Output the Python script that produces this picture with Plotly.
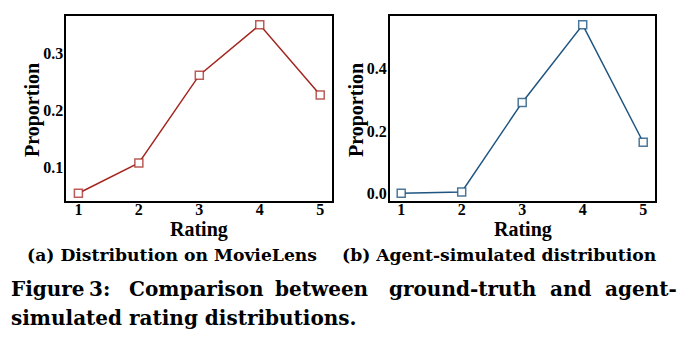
import plotly.graph_objects as go

ratings = [1, 2, 3, 4, 5]
movielens = [0.055, 0.108, 0.2615, 0.3495, 0.227]
agent_sim = [0.0, 0.004, 0.292, 0.5415, 0.164]
left_yticks = [0.1, 0.2, 0.3]
right_yticks = [0.0, 0.2, 0.4]
sub_a = "(a) Distribution on MovieLens"
sub_b = "(b) Agent-simulated distribution"
cap_line1 = ["Figure", "3:", "Comparison", "between", "ground-truth", "and", "agent-"]
cap_line2 = "simulated rating distributions."

W, H = 683, 345
def px_x(p): return p / W
def px_y(p): return 1 - p / H

SERIF = "Liberation Serif"
CAPF = "DejaVu Serif"
red = "#A3261F"
blue = "#1F5580"

fig = go.Figure()
fig.add_trace(go.Scatter(x=ratings, y=movielens, mode="lines+markers",
                         line=dict(color=red, width=1.5),
                         marker=dict(symbol="square", size=8, color="white",
                                     line=dict(color="rgba(163,38,31,0.75)", width=1.5)),
                         xaxis="x", yaxis="y", showlegend=False))
fig.add_trace(go.Scatter(x=ratings, y=agent_sim, mode="lines+markers",
                         line=dict(color=blue, width=1.5),
                         marker=dict(symbol="square", size=8, color="white",
                                     line=dict(color="rgba(31,85,128,0.8)", width=1.5)),
                         xaxis="x2", yaxis="y2", showlegend=False))

tickfont = dict(family=SERIF, size=16, color="#000000", weight="bold")
common = dict(showline=True, linecolor="black", linewidth=1.5, mirror=True,
              showgrid=False, zeroline=False, ticks="", tickfont=tickfont)
xcommon = dict(common, ticklabelstandoff=-7)
ycommon = dict(common, ticklabelstandoff=-2)
ydom = [px_y(201.3), px_y(16)]
fig.update_layout(
    width=W, height=H, margin=dict(l=0, r=0, t=0, b=0),
    paper_bgcolor="white", plot_bgcolor="white",
    xaxis=dict(domain=[px_x(66.3), px_x(332.3)], range=[0.8, 5.2],
               tickvals=ratings, anchor="y", **xcommon),
    yaxis=dict(domain=ydom, range=[0.041, 0.365], tickvals=left_yticks,
               tickformat=".1f", anchor="x", **ycommon),
    xaxis2=dict(domain=[px_x(389.7), px_x(655.3)], range=[0.81, 5.2],
                tickvals=ratings, anchor="y2", **xcommon),
    yaxis2=dict(domain=ydom, range=[-0.026, 0.570], tickvals=right_yticks,
                tickformat=".1f", anchor="x2", **ycommon),
)

ann = []
titlefont = dict(family=SERIF, size=20, color="black")
for cx, py in [(33, 110), (357, 110)]:
    ann.append(dict(text="<b>Proportion</b>", x=px_x(cx), y=px_y(py), xref="paper", yref="paper",
                    showarrow=False, textangle=-90, font=titlefont, xanchor="center", yanchor="middle"))
for cx in [(66.3 + 332.3) / 2, (389.7 + 655.3) / 2]:
    ann.append(dict(text="<b>Rating</b>", x=px_x(cx), y=px_y(229), xref="paper", yref="paper",
                    showarrow=False, font=titlefont, xanchor="center", yanchor="middle"))
capfont = dict(family=CAPF, size=17.2, color="black", weight="bold")
ann.append(dict(text=sub_a, x=px_x(25), y=px_y(255), xref="paper", yref="paper",
                showarrow=False, font=capfont, xanchor="left", yanchor="middle"))
ann.append(dict(text=sub_b, x=px_x(340), y=px_y(255), xref="paper", yref="paper",
                showarrow=False, font=capfont, xanchor="left", yanchor="middle"))
word_x = [9, 87, 127, 273, 387, 548, 603]
bigfont = dict(family=CAPF, size=20, color="black", weight="bold")
for w, xx in zip(cap_line1, word_x):
    ann.append(dict(text=w, x=px_x(xx), y=px_y(289), xref="paper", yref="paper",
                    showarrow=False, font=bigfont, xanchor="left", yanchor="middle"))
ann.append(dict(text=cap_line2, x=px_x(9), y=px_y(318), xref="paper", yref="paper",
                showarrow=False, font=bigfont, xanchor="left", yanchor="middle"))
fig.update_layout(annotations=ann)
fig.write_html("out.html")
